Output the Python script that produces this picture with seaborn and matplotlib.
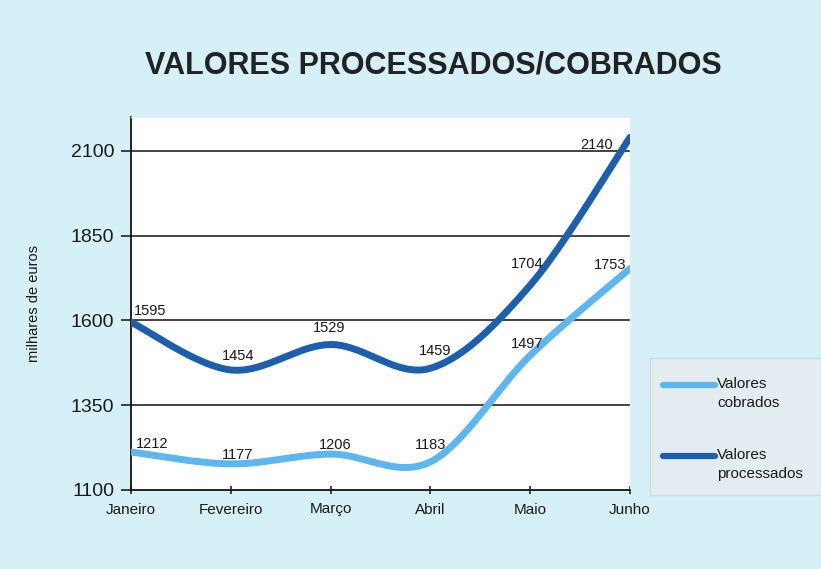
import numpy as np
import pandas as pd
import matplotlib
matplotlib.use("Agg")
import matplotlib.pyplot as plt
from matplotlib.lines import Line2D
from matplotlib.patches import Rectangle
from matplotlib.legend_handler import HandlerLine2D
import seaborn as sns

months = ["Janeiro", "Fevereiro", "Março", "Abril", "Maio", "Junho"]
processados = [1595, 1454, 1529, 1459, 1704, 2140]
cobrados = [1212, 1177, 1206, 1183, 1497, 1753]
series_names = ["Valores cobrados", "Valores processados"]
legend_labels = ["Valores\ncobrados", "Valores\nprocessados"]
yticks = [1100, 1350, 1600, 1850, 2100]

COL_LIGHT = "#5cb6ef"
COL_DARK = "#1c5fae"
BG = "#d6f0f7"

sns.set_theme(style="white")
plt.rcParams["font.family"] = ["Liberation Sans", "DejaVu Sans"]


def smooth(xs, ys, n=40):
    """Bezier smoothing like spreadsheet 'smoothed line' (Catmull-Rom)."""
    P = np.column_stack([xs, ys]).astype(float)
    Pe = np.vstack([P[0], P, P[-1]])
    out = []
    for i in range(len(P) - 1):
        p0, p1, p2, p3 = Pe[i], Pe[i + 1], Pe[i + 2], Pe[i + 3]
        c1 = p1 + (p2 - p0) / 6.0
        c2 = p2 - (p3 - p1) / 6.0
        t = np.linspace(0, 1, n, endpoint=(i == len(P) - 2))[:, None]
        seg = ((1 - t) ** 3) * p1 + 3 * ((1 - t) ** 2) * t * c1 + 3 * (1 - t) * t ** 2 * c2 + t ** 3 * p2
        out.append(seg)
    out = np.vstack(out)
    return out[:, 0], out[:, 1]


class TopLineHandler(HandlerLine2D):
    """Legend line aligned with the first line of a two-line label."""
    def create_artists(self, legend, orig_handle, xdescent, ydescent, width, height, fontsize, trans):
        arts = super().create_artists(legend, orig_handle, xdescent, ydescent, width, height, fontsize, trans)
        for a in arts:
            a.set_ydata(np.asarray(a.get_ydata(), dtype=float) + fontsize * 0.55)
        return arts


x = np.arange(len(months))
frames = []
for name, vals in zip(series_names, [cobrados, processados]):
    sx, sy = smooth(x, vals)
    frames.append(pd.DataFrame({"x": sx, "y": sy, "serie": name}))
df = pd.concat(frames, ignore_index=True)

fig = plt.figure(figsize=(8.21, 5.69), dpi=100)
fig.patch.set_facecolor(BG)
ax = fig.add_axes([131 / 821, 1 - 490 / 569, (630 - 131) / 821, (490 - 117) / 569])
ax.set_facecolor("white")

sns.lineplot(data=df, x="x", y="y", hue="serie", sort=False,
             palette={series_names[0]: COL_LIGHT, series_names[1]: COL_DARK},
             linewidth=5, ax=ax, legend=False, zorder=3)
for ln in ax.get_lines():
    ln.set_solid_capstyle("round")

ax.set_xlim(0, len(months) - 1)
ax.set_ylim(1100, 2200)
ax.set_yticks(yticks)
ax.set_yticklabels([str(v) for v in yticks], fontsize=14, color="#1a1a1a")
ax.set_xticks(x)
ax.set_xticklabels(months, fontsize=11, color="#1a1a1a")
ax.set_xlabel("")
ax.set_ylabel("milhares de euros", fontsize=10.5, color="#1a1a1a")
ax.yaxis.set_label_coords((41 - 131) / (630 - 131), 0.5)

for v in yticks[1:]:
    ax.axhline(v, color="#111111", lw=1.1, zorder=1)

for side in ["top", "right"]:
    ax.spines[side].set_color("#e6eef2")
    ax.spines[side].set_linewidth(1)
for side in ["left", "bottom"]:
    ax.spines[side].set_color("#111111")
    ax.spines[side].set_linewidth(1.3)
ax.tick_params(axis="y", direction="out", length=7, width=1.1, color="#111111", pad=5, left=True)
ax.tick_params(axis="x", direction="inout", length=6, width=1.1, color="#111111", pad=6, bottom=True)

# data labels (offsets in pixels)
off_proc = [(19, 11), (7, 14), (-1, 17), (5, 17), (-3, 21), (-33, -8)]
off_cob = [(21, 8), (7, 9), (5, 9), (0, 17), (-3, 11), (-20, 4)]
for vals, offs in [(processados, off_proc), (cobrados, off_cob)]:
    for xi, (v, o) in enumerate(zip(vals, offs)):
        ax.annotate(str(v), (xi, v), xytext=o, textcoords="offset pixels",
                    ha="center", va="center", fontsize=10.5, color="#1a1a1a",
                    zorder=4, annotation_clip=False)

fig.text(433 / 821, 1 - 65 / 569, "VALORES PROCESSADOS/COBRADOS",
         ha="center", va="center", fontsize=22, fontweight="bold", color="#222222")

# legend box
fig.patches.append(Rectangle((650 / 821, 1 - 495 / 569), (821 - 650) / 821, (495 - 358) / 569,
                             transform=fig.transFigure, facecolor="#e3edf1",
                             edgecolor="#cddbe1", lw=1, zorder=0))
handles = [Line2D([0], [0], color=COL_LIGHT, lw=4.5, solid_capstyle="round"),
           Line2D([0], [0], color=COL_DARK, lw=4.5, solid_capstyle="round")]
leg = fig.legend(handles, legend_labels, loc="upper left",
                 bbox_to_anchor=(663 / 821, 1 - 377 / 569), frameon=False,
                 fontsize=11, handlelength=3.4, handletextpad=0.15,
                 labelspacing=2.5, borderaxespad=0, borderpad=0,
                 labelcolor="#1a1a1a", handler_map={Line2D: TopLineHandler()})
for t in leg.get_texts():
    t.set_linespacing(1.45)

fig.savefig("out.png", dpi=100, facecolor=BG)
